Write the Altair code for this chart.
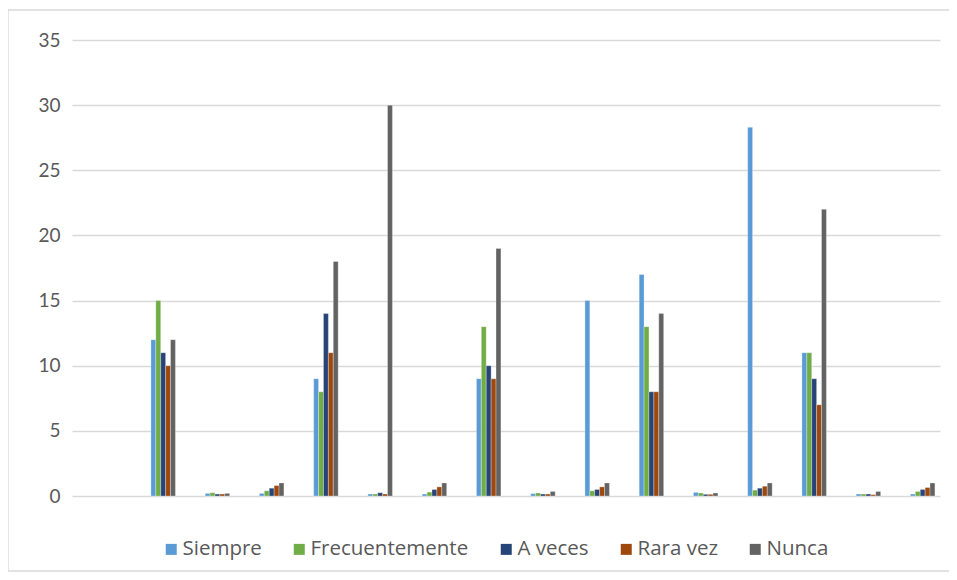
import altair as alt
import pandas as pd

categorias = [str(i) for i in range(1, 17)]
series = ["Siempre", "Frecuentemente", "A veces", "Rara vez", "Nunca"]
colores = ["#5B9BD5", "#70AD47", "#264478", "#9E480E", "#636363"]

siempre        = [None, 12, 0.2, 0.2, 9, 0.15, 0.15, 9, 0.18, 15, 17, 0.28, 28.3, 11, 0.15, 0.15]
frecuentemente = [None, 15, 0.25, 0.4, 8, 0.15, 0.3, 13, 0.23, 0.4, 13, 0.23, 0.45, 11, 0.15, 0.35]
a_veces        = [None, 11, 0.15, 0.6, 14, 0.25, 0.5, 10, 0.15, 0.5, 8, 0.13, 0.6, 9, 0.15, 0.5]
rara_vez       = [None, 10, 0.15, 0.8, 11, 0.15, 0.7, 9, 0.15, 0.7, 8, 0.13, 0.75, 7, 0.1, 0.65]
nunca          = [None, 12, 0.2, 1.0, 18, 30, 1.0, 19, 0.35, 1.0, 14, 0.23, 1.0, 22, 0.35, 1.0]

valores = [siempre, frecuentemente, a_veces, rara_vez, nunca]
rows = []
for s, vals in zip(series, valores):
    for c, v in zip(categorias, vals):
        if v is not None:
            rows.append({"cat": c, "serie": s, "valor": v})
df = pd.DataFrame(rows)

offset_domain = ["_h1", "_h2", "_h3", "_h4"] + series

FONT = "Lato"
LEGEND_FONT = "Open Sans"

bars = alt.Chart(df).mark_bar(stroke="white", strokeWidth=0.3).encode(
    x=alt.X("cat:N", sort=categorias, axis=None,
            scale=alt.Scale(domain=categorias, paddingInner=0.187, paddingOuter=0.0935)),
    xOffset=alt.XOffset("serie:N", scale=alt.Scale(domain=offset_domain, paddingInner=0, paddingOuter=0)),
    y=alt.Y("valor:Q", scale=alt.Scale(domain=[0, 35], nice=False),
            axis=alt.Axis(values=[0, 5, 10, 15, 20, 25, 30, 35], title=None,
                          grid=True, gridColor="#D9D9D9", gridWidth=1.3,
                          domain=False, ticks=False, labelPadding=12,
                          labelColor="#595959", labelFont=FONT, labelFontSize=19)),
    color=alt.Color("serie:N", scale=alt.Scale(domain=series, range=colores),
                    legend=alt.Legend(title=None, orient="none", direction="horizontal",
                                      legendX=89, legendY=499,
                                      symbolType="square", symbolSize=121, symbolStrokeWidth=0,
                                      labelFont=LEGEND_FONT, labelFontSize=20.5, labelColor="#595959",
                                      labelOffset=1, columnPadding=27, padding=0)),
)

frame = alt.Chart(pd.DataFrame({"a": [0]})).mark_rect(
    fill=None, stroke="#D9D9D9", strokeWidth=1.3
).encode(
    x=alt.value(-64), x2=alt.value(883), y=alt.value(-30), y2=alt.value(531)
)

chart = alt.layer(frame, bars).properties(
    width=868, height=456,
    autosize=alt.AutoSizeParams(type="none"),
    padding={"left": 64, "top": 32, "right": 9, "bottom": 76},
).configure_view(stroke=None)

chart.save("out.html", embed_options={"renderer": "svg", "actions": False})
